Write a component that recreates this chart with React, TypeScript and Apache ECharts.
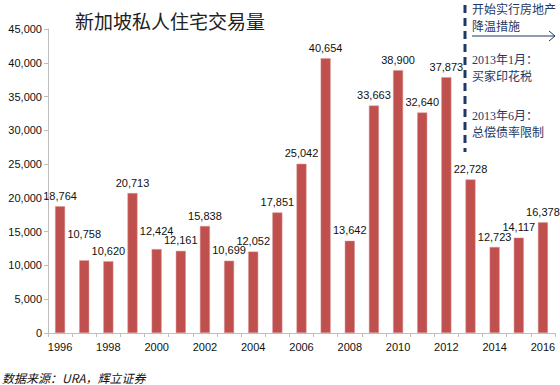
import React, { useEffect, useRef } from "react";
import * as echarts from "echarts";

const years = ["1996","1997","1998","1999","2000","2001","2002","2003","2004","2005","2006","2007","2008","2009","2010","2011","2012","2013","2014","2015","2016"];
const volumes = [18764,10758,10620,20713,12424,12161,15838,10699,12052,17851,25042,40654,13642,33663,38900,32640,37873,22728,12723,14117,16378];
const labelOffsets: Record<string, number[]> = { "1997": [0, -16], "2000": [0, -8] };
const titleText = "新加坡私人住宅交易量";
const noteLines1 = ["开始实行房地产", "降温措施"];
const noteLines2 = ["2013年1月：", "买家印花税"];
const noteLines3 = ["2013年6月：", "总偿债率限制"];
const sourceText = "数据来源：URA，辉立证券";

const NAVY = "#1F3864";
const NUM_FONT = "'Liberation Sans', Arial, sans-serif";
const CJK_FONT = "'Noto Sans CJK SC', sans-serif";
const NOTE_FONT = "'Liberation Serif', 'Noto Sans CJK SC', serif";

export default function App() {
  const ref = useRef<HTMLDivElement>(null);
  useEffect(() => {
    if (!ref.current) return;
    const chart = echarts.init(ref.current, undefined, { renderer: "svg" });
    const noteText = (lines: string[], y: number) => ({
      type: "text",
      left: 472,
      top: y,
      style: {
        text: lines.join("\n"),
        fill: NAVY,
        font: `12px ${NOTE_FONT}`,
        lineHeight: 17,
      },
    });
    chart.setOption({
      animation: false,
      backgroundColor: "#fff",
      grid: { left: 48, right: 5, top: 29, bottom: 52, containLabel: false },
      xAxis: {
        type: "category",
        data: years,
        boundaryGap: true,
        axisLine: { lineStyle: { color: "#BFBFBF" } },
        axisTick: { show: true, interval: 0, length: 4, lineStyle: { color: "#BFBFBF" } },
        axisLabel: { interval: 1, color: "#111", fontSize: 11, fontFamily: NUM_FONT, margin: 8 },
      },
      yAxis: {
        type: "value",
        min: 0,
        max: 45000,
        interval: 5000,
        splitLine: { show: false },
        axisLine: { show: true, lineStyle: { color: "#BFBFBF" } },
        axisTick: { show: true, length: 4, lineStyle: { color: "#BFBFBF" } },
        axisLabel: {
          color: "#111",
          fontSize: 11,
          fontFamily: NUM_FONT,
          margin: 6,
          formatter: (v: number) => v.toLocaleString("en-US"),
        },
      },
      series: [
        {
          type: "bar",
          barWidth: 10,
          itemStyle: { color: "#C0504D", borderColor: "#D99694", borderWidth: 0.5 },
          data: volumes.map((v, i) => ({
            value: v,
            label: labelOffsets[years[i]] ? { offset: labelOffsets[years[i]] } : undefined,
          })),
          label: {
            show: true,
            position: "top",
            distance: 5,
            color: "#111",
            fontSize: 11,
            fontFamily: NUM_FONT,
            formatter: (p: any) => Number(p.value).toLocaleString("en-US"),
          },
        },
      ],
      graphic: [
        {
          type: "text",
          left: 75,
          top: 11,
          style: { text: titleText, fill: "#222", font: `19px ${CJK_FONT}` },
        },
        {
          type: "line",
          shape: { x1: 465, y1: 5, x2: 465, y2: 152 },
          style: { stroke: NAVY, lineWidth: 3, lineDash: [8, 5] },
        },
        noteText(noteLines1, 1),
        {
          type: "line",
          shape: { x1: 472, y1: 36, x2: 555, y2: 36 },
          style: { stroke: NAVY, lineWidth: 1 },
        },
        {
          type: "polyline",
          shape: { points: [[549, 31], [555, 36], [549, 41]] },
          style: { stroke: NAVY, lineWidth: 1, fill: null },
        },
        noteText(noteLines2, 51),
        noteText(noteLines3, 107),
        {
          type: "text",
          left: 2,
          top: 371,
          style: { text: sourceText, fill: "#111", font: `italic 12px ${CJK_FONT}` },
        },
      ],
    });
    return () => chart.dispose();
  }, []);
  return <div ref={ref} style={{ width: 560, height: 385, position: "absolute", left: 0, top: 0 }} />;
}
